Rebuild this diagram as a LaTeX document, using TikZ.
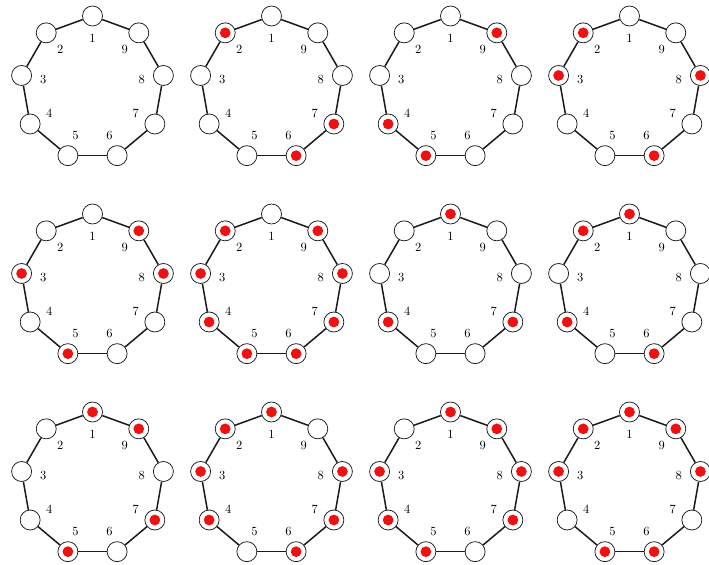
\documentclass[tikz,border=0pt]{standalone}
\usepackage{xcolor}
\usepackage{tikz}
\usetikzlibrary{backgrounds}
\definecolor{dotred}{HTML}{EE1111}
\definecolor{linegrey}{HTML}{1A1A1A}
\tikzset{
  vtx/.style  = {circle, draw=linegrey, fill=white, minimum size=16pt,
                 inner sep=0pt, line width=0.6pt},
  dot/.style  = {circle, fill=dotred, minimum size=8.6pt, inner sep=0pt},
  edge/.style = {draw=linegrey, line width=1.2pt},
  num/.style  = {font=\normalsize, inner sep=0pt},
}

\begin{document}
\begin{tikzpicture}[x=0.8pt, y=0.8pt]
  \useasboundingbox (0,0) rectangle (709,565);
  \clip (0,0) rectangle (709,565);
  % ---------------- Nine-gons ----------------
  \foreach \n in {1,...,12}{
    \pgfmathtruncatemacro{\col}{mod(\n-1,4)}
    \pgfmathtruncatemacro{\row}{(\n-1)/4}
    \coordinate (c\n) at ({92.5+179*\col},{477-198*\row});
    \foreach \k in {1,...,9}{
      \pgfmathsetmacro{\a}{90+40*(\k-1)}
      \node[vtx] (v\n-\k) at ([shift={(\a:72)}]c\n) {};
      \node[num] (l\n-\k) at ([shift={(\a:50)}]c\n) {\k};
    }
    \foreach \k in {1,...,9}{
      \pgfmathtruncatemacro{\nx}{mod(\k,9)+1}
      \draw[edge] (v\n-\k) -- (v\n-\nx);
    }
  }
  % ---------------- Chosen vertices ----------------
  \foreach \n/\on in {2/{2,6,7}, 3/{9,4,5}, 4/{2,3,8,6},
                      5/{9,3,8,5}, 6/{2,3,4,5,6,7,8,9}, 7/{1,4,7}, 8/{1,2,4,6},
                      9/{1,9,7,5}, 10/{1,2,3,4,6,7,8}, 11/{1,9,3,8,4,7,5},
                      12/{1,2,9,3,8,5,6}}{
    \foreach \k in \on
      \node[dot] (d\n-\k) at (v\n-\k) {};
  }
\end{tikzpicture}
\end{document}
